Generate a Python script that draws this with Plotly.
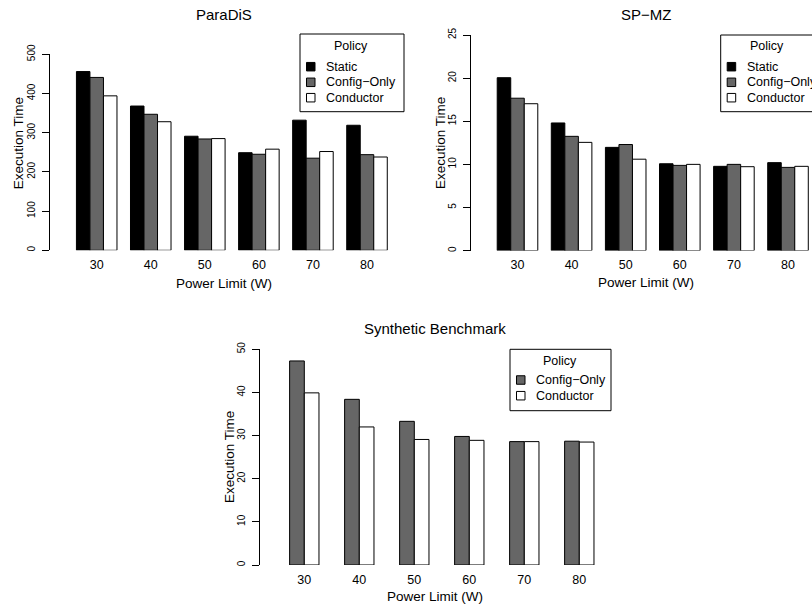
import plotly.graph_objects as go

# ---------------- data ----------------
power_limits = ["30", "40", "50", "60", "70", "80"]
policies = ["Static", "Config−Only", "Conductor"]
policy_colors = ["#000000", "#666666", "#ffffff"]

paradis_static = [456, 368, 291, 249, 332, 319]
paradis_config_only = [441, 347, 284, 245, 235, 244]
paradis_conductor = [394, 328, 285, 258, 252, 238]

spmz_static = [20.05, 14.8, 11.97, 10.07, 9.77, 10.2]
spmz_config_only = [17.67, 13.25, 12.3, 9.88, 10.0, 9.65]
spmz_conductor = [17.03, 12.55, 10.6, 10.0, 9.73, 9.77]

synthetic_config_only = [47.3, 38.4, 33.3, 29.8, 28.6, 28.7]
synthetic_conductor = [39.9, 32.0, 29.1, 28.9, 28.6, 28.5]

yticks_paradis = [0, 100, 200, 300, 400, 500]
yticks_spmz = [0, 5, 10, 15, 20, 25]
yticks_synthetic = [0, 10, 20, 30, 40, 50]

titles = ["ParaDiS", "SP−MZ", "Synthetic Benchmark"]
x_title = "Power Limit (W)"
y_title = "Execution Time"
legend_title = "Policy"

# ---------------- layout helpers ----------------
W, H = 812, 609
FONT = "Liberation Sans, Arial, Helvetica, sans-serif"


def fx(p):
    return p / W


def fy(p):
    return 1 - p / H


panels = [
    dict(
        title=titles[0], series=[0, 1, 2],
        values=[paradis_static, paradis_config_only, paradis_conductor],
        yticks=yticks_paradis,
        axis_left=50, right=400, c0=96.7, step=54.06, top=54.3, bottom=250.3,
        bar_w=0.25,
        title_pos=(224, 14.5), xt_pos=(224, 283.3), yt_pos=(18.3, 143),
        legend_box=(300, 34, 404, 111.7), legend_title_x=351, legend_title_y=46,
        legend_rows=[66.7, 82.3, 97.7],
    ),
    dict(
        title=titles[1], series=[0, 1, 2],
        values=[spmz_static, spmz_config_only, spmz_conductor],
        yticks=yticks_spmz,
        axis_left=470.7, right=812, c0=517.5, step=54.1, top=35, bottom=250.6,
        bar_w=0.25,
        title_pos=(645.7, 14.5), xt_pos=(645.7, 282.5), yt_pos=(440, 143),
        legend_box=(720.7, 35, 826, 111.7), legend_title_x=767, legend_title_y=46,
        legend_rows=[66.7, 82.3, 97.7],
    ),
    dict(
        title=titles[2], series=[1, 2],
        values=[synthetic_config_only, synthetic_conductor],
        yticks=yticks_synthetic,
        axis_left=260, right=620, c0=304.3, step=55.0, top=349.3, bottom=565,
        bar_w=0.267,
        title_pos=(435, 328.3), xt_pos=(435, 596.7), yt_pos=(229.3, 456.7),
        legend_box=(510, 349.3, 611, 410.7), legend_title_x=560.3, legend_title_y=361,
        legend_rows=[380, 395.7],
    ),
]

fig = go.Figure()
layout = dict(
    template="none",
    width=W, height=H, autosize=False,
    margin=dict(l=0, r=0, t=0, b=0, pad=0),
    paper_bgcolor="white", plot_bgcolor="white",
    barmode="overlay", showlegend=False,
    font=dict(family=FONT, color="black"),
)
annotations = []
shapes = []

for i, p in enumerate(panels):
    sfx = "" if i == 0 else str(i + 1)
    xa, ya = "x" + sfx, "y" + sfx
    n = len(p["series"])
    w = p["bar_w"]
    for k, (s, vals) in enumerate(zip(p["series"], p["values"])):
        fig.add_trace(go.Bar(
            x=power_limits, y=vals, xaxis=xa, yaxis=ya,
            name=policies[s], width=w, offset=-n * w / 2 + k * w,
            marker=dict(color=policy_colors[s], line=dict(color="black", width=1)),
            showlegend=False,
        ))
    left = (p["axis_left"] - p["c0"]) / p["step"]
    right = (p["right"] - p["c0"]) / p["step"]
    layout["xaxis" + sfx] = dict(
        domain=[fx(p["axis_left"]), fx(p["right"])], range=[left, right],
        type="category", anchor=ya, showline=False, showgrid=False,
        zeroline=False, ticks="", tickfont=dict(size=12.5, color="black"),
        ticklabelstandoff=5, automargin=False,
    )
    layout["yaxis" + sfx] = dict(
        domain=[fy(p["bottom"]), fy(p["top"])],
        range=[p["yticks"][0], p["yticks"][-1]], anchor=xa,
        showline=True, linecolor="black", linewidth=1,
        ticks="outside", ticklen=7, tickwidth=1, tickcolor="black",
        tickvals=p["yticks"], ticktext=[str(t) for t in p["yticks"]],
        tickangle=-90, tickfont=dict(size=10, color="black"),
        showgrid=False, zeroline=False, ticklabelstandoff=3, automargin=False,
    )
    # titles
    annotations.append(dict(text=p["title"], x=fx(p["title_pos"][0]), y=fy(p["title_pos"][1]),
                            xref="paper", yref="paper", showarrow=False,
                            xanchor="center", yanchor="middle", font=dict(size=15)))
    annotations.append(dict(text=x_title, x=fx(p["xt_pos"][0]), y=fy(p["xt_pos"][1]),
                            xref="paper", yref="paper", showarrow=False,
                            xanchor="center", yanchor="middle", font=dict(size=13.5)))
    annotations.append(dict(text=y_title, x=fx(p["yt_pos"][0]), y=fy(p["yt_pos"][1]),
                            xref="paper", yref="paper", showarrow=False, textangle=-90,
                            xanchor="center", yanchor="middle", font=dict(size=13.5)))
    # legend
    bx0, by0, bx1, by1 = p["legend_box"]
    shapes.append(dict(type="rect", xref="paper", yref="paper",
                       x0=fx(bx0), x1=fx(bx1), y0=fy(by1), y1=fy(by0),
                       line=dict(color="black", width=1), fillcolor="white", layer="above"))
    annotations.append(dict(text=legend_title, x=fx(p["legend_title_x"]), y=fy(p["legend_title_y"]),
                            xref="paper", yref="paper", showarrow=False,
                            xanchor="center", yanchor="middle", font=dict(size=12.5)))
    for s, ry in zip(p["series"], p["legend_rows"]):
        sq = 8.5
        shapes.append(dict(type="rect", xref="paper", yref="paper",
                           x0=fx(bx0 + 6.5), x1=fx(bx0 + 6.5 + sq),
                           y0=fy(ry + sq / 2), y1=fy(ry - sq / 2),
                           line=dict(color="black", width=1),
                           fillcolor=policy_colors[s], layer="above"))
        annotations.append(dict(text=policies[s], x=fx(bx0 + 24), y=fy(ry),
                                xref="paper", yref="paper", showarrow=False,
                                xanchor="left", yanchor="middle", font=dict(size=12.5)))

layout["annotations"] = annotations
layout["shapes"] = shapes
fig.update_layout(**layout)
fig.write_html(
    "out.html",
    config={"displayModeBar": False},
    post_script=(
        "document.documentElement.style.margin='0';"
        "document.documentElement.style.padding='0';"
        "document.documentElement.style.overflow='hidden';"
        "document.body.style.margin='0';"
        "document.body.style.padding='0';"
        "document.body.style.overflow='hidden';"
    ),
)
